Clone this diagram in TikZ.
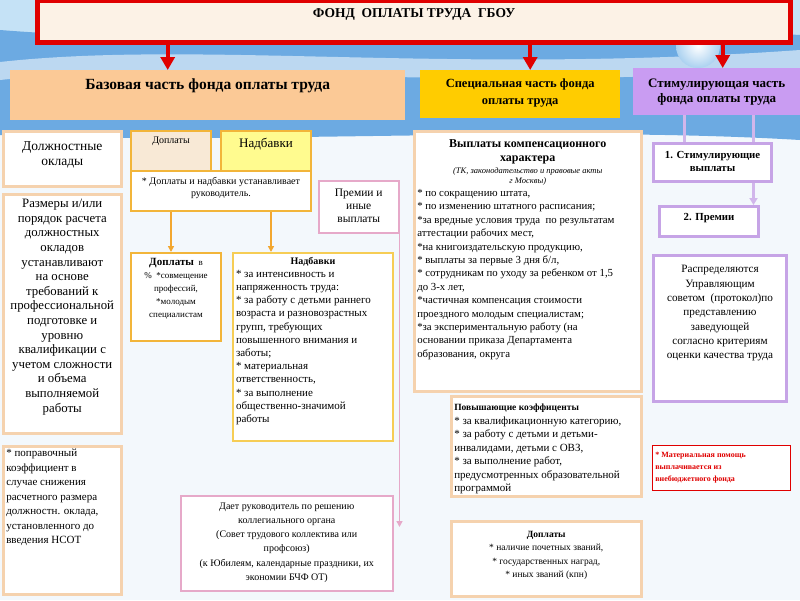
\documentclass[tikz,border=0pt]{standalone}
\usepackage{fontspec}
\setmainfont{Liberation Serif}
\usetikzlibrary{arrows.meta,calc}

\definecolor{redmain}{HTML}{E00000}
\definecolor{titlefill}{HTML}{FCF2E6}
\definecolor{peachfill}{HTML}{FBC996}
\definecolor{peachline}{HTML}{F5D2AE}
\definecolor{specfill}{HTML}{FFCC00}
\definecolor{stimfill}{HTML}{C99CF2}
\definecolor{lilacline}{HTML}{C6A4E6}
\definecolor{goldline}{HTML}{F2B53A}
\definecolor{goldlineB}{HTML}{F6CD55}
\definecolor{doplfill}{HTML}{F8E9D6}
\definecolor{nadbfill}{HTML}{FFFB8F}
\definecolor{pinkline}{HTML}{E6A9C9}
\definecolor{arrowgold}{HTML}{F2A730}
\definecolor{skylight}{HTML}{F3F8FC}
\definecolor{skytop}{HTML}{C5E2F6}
\definecolor{skyband}{HTML}{6CAAE2}

\newcommand{\cellbox}[4][t]{\parbox[c][\dimexpr#3pt-6pt\relax][#1]{\dimexpr#2pt-6pt\relax}{#4}}

\begin{document}
\begin{tikzpicture}[x=1pt, y=-1pt,
    cell/.style={anchor=north west, inner sep=3pt, fill=white},
    peachcell/.style={cell, draw=peachline, line width=2.5pt},
    goldcell/.style={cell, draw=goldline, line width=2pt},
    lilaccell/.style={cell, draw=lilacline, line width=3pt},
    pinkcell/.style={cell, draw=pinkline, line width=1.5pt},
    redarrow/.style={draw=redmain, line width=4pt, -{Triangle[width=14pt,length=13pt]}},
    goldarrow/.style={draw=arrowgold, line width=1.5pt, -{Triangle[width=6pt,length=6pt]}},
    lilaclink/.style={draw=lilacline!80, line width=2.5pt},
    pinklink/.style={draw=pinkline, line width=1.5pt, -{Triangle[width=6pt,length=6pt]}},
  ]
  \useasboundingbox (0,0) rectangle (800,600);
  \fill[skylight] (0,0) rectangle (800,600);
  \fill[skytop] (0,0) rectangle (800,40);
  \fill[skyband] (0,30) .. controls (250,50) and (550,20) .. (800,35)
    -- (800,140) .. controls (550,125) and (250,145) .. (0,135) -- cycle;
  \fill[white, opacity=0.55] (0,62) .. controls (200,40) and (450,75) .. (800,50)
    -- (800,68) .. controls (450,95) and (200,58) .. (0,80) -- cycle;
  \shade[inner color=white, outer color=skytop!70!skyband] (698,46) circle (22);

  % top level
  \node[cell, draw=redmain, line width=5pt, fill=titlefill,
        font=\bfseries\fontsize{13.5}{15}\selectfont] (title) at (35,-2)
    {\cellbox{753}{42}{\vspace*{5pt}\centering ФОНД\ \ ОПЛАТЫ ТРУДА\ \ ГБОУ}};

  \node[cell, fill=peachfill, font=\bfseries\fontsize{15.5}{17}\selectfont] (base) at (10,70)
    {\cellbox{395}{50}{\vspace*{6pt}\centering Базовая часть фонда оплаты труда}};
  \node[cell, fill=specfill, font=\bfseries\fontsize{12.5}{17}\selectfont] (spec) at (420,70)
    {\cellbox{200}{48}{\vspace*{6pt}\centering Специальная часть фонда\\ оплаты труда}};
  \node[cell, fill=stimfill, font=\bfseries\fontsize{13}{15}\selectfont] (stim) at (633,68)
    {\cellbox{167}{47}{\vspace*{8pt}\centering Стимулирующая часть\\ фонда оплаты труда}};

  % base part
  \node[peachcell, font=\fontsize{13.5}{15.5}\selectfont] (dolzh) at (2,130)
    {\cellbox{118}{55}{\vspace*{7pt}\centering Должностные\\ оклады}};
  \node[peachcell, font=\fontsize{12.8}{14.6}\selectfont] (razm) at (2,193)
    {\cellbox{118}{239}{\vspace*{2pt}\centering Размеры и/или\\ порядок расчета\\ должностных\\ окладов\\
      устанавливают\\ на основе\\ требований к\\ профессиональной\\ подготовке и\\ уровню\\
      квалификации с\\ учетом сложности\\ и объема\\ выполняемой\\ работы}};
  \node[peachcell, font=\fontsize{11}{14.5}\selectfont] (popr) at (2,445)
    {\cellbox{118}{148}{\raggedright * поправочный\\ коэффициент в\\ случае снижения\\ расчетного размера\\
      должностн. оклада,\\ установленного до\\ введения НСОТ}};

  \node[cell, draw=goldline, line width=2pt, fill=doplfill, font=\fontsize{10}{12}\selectfont] (doplA) at (130,130)
    {\cellbox{80}{40}{\vspace*{3pt}\centering Доплаты}};
  \node[cell, draw=goldline, line width=2pt, fill=nadbfill, font=\fontsize{13}{14}\selectfont] (nadbA) at (220,130)
    {\cellbox{90}{40}{\vspace*{4pt}\centering Надбавки}};
  \node[goldcell, font=\fontsize{10}{12}\selectfont] (ustan) at (130,170)
    {\cellbox{180}{40}{\vspace*{3pt}\centering * Доплаты и надбавки устанавливает\\ руководитель.}};

  \node[goldcell, font=\fontsize{9}{13}\selectfont] (doplB) at (130,252)
    {\cellbox{90}{88}{\vspace*{2pt}\centering{\bfseries\fontsize{11}{13}\selectfont Доплаты}\ \ в\\ \%\ \ *совмещение\\
      профессий,\\{}*молодым\\ специалистам}};
  \node[goldcell, draw=goldlineB, font=\fontsize{11}{13.2}\selectfont] (nadbB) at (232,252)
    {\cellbox{160}{188}{\vspace*{1pt}{\centering\bfseries\fontsize{10}{13.2}\selectfont Надбавки\par}\raggedright * за интенсивность и\\
      напряженность труда:\\{}* за работу с детьми раннего\\ возраста и разновозрастных\\
      групп, требующих\\ повышенного внимания и\\ заботы;\\{}* материальная\\ ответственность,\\{}%
      * за выполнение\\ общественно-значимой\\ работы}};

  \node[pinkcell, font=\fontsize{11.5}{13}\selectfont] (prem) at (318,180)
    {\cellbox{80}{52}{\vspace*{5pt}\centering Премии и\\ иные\\ выплаты}};
  \node[pinkcell, font=\fontsize{10}{14.2}\selectfont] (dast) at (180,495)
    {\cellbox{212}{95}{\vspace*{4pt}\centering Дает руководитель по решению\\ коллегиального органа\\
      (Совет трудового коллектива или\\ профсоюз)\\ (к Юбилеям, календарные праздники, их\\ экономии БЧФ ОТ)}};

  % special part
  \node[peachcell] (komp) at (413,130)
    {\cellbox{227}{260}{\vspace*{5pt}{\centering\bfseries\fontsize{12}{14}\selectfont Выплаты компенсационного\\ характера\par}
      \vspace{2pt}{\centering\itshape\fontsize{8.5}{10}\selectfont (ТК, законодательство и правовые акты\\ г Москвы)\par}
      \raggedright\fontsize{10.8}{13.4}\selectfont
      * по сокращению штата,\\{}* по изменению штатного расписания;\\{}%
      *за вредные условия труда\ \ по результатам\\ аттестации рабочих мест,\\{}%
      *на книгоиздательскую продукцию,\\{}* выплаты за первые 3 дня б/л,\\{}%
      * сотрудникам по уходу за ребенком от 1,5\\ до 3-х лет,\\{}%
      *частичная компенсация стоимости\\ проездного молодым специалистам;\\{}%
      *за экспериментальную работу (на\\ основании приказа Департамента\\ образования, округа}};
  \node[peachcell, font=\fontsize{11}{13.5}\selectfont] (pov) at (450,395)
    {\cellbox{190}{100}{\vspace*{5pt}\raggedright{\bfseries\fontsize{9.5}{13.5}\selectfont Повышающие коэффиценты}\\{}%
      * за квалификационную категорию,\\{}* за работу с детьми и детьми-\\ инвалидами, детьми с ОВЗ,\\{}%
      * за выполнение работ,\\ предусмотренных образовательной\\ программой}};
  \node[peachcell, font=\fontsize{9.5}{13.5}\selectfont] (doplC) at (450,520)
    {\cellbox{190}{75}{\vspace*{7pt}\centering{\bfseries Доплаты}\\{}* наличие почетных званий,\\{}%
      * государственных наград,\\{}* иных званий (кпн)}};

  % stimulating part
  \node[lilaccell, font=\bfseries\fontsize{10.8}{13}\selectfont] (sA) at (652,142)
    {\cellbox{118}{38}{\vspace*{5pt}\centering 1. Стимулирующие\\ выплаты}};
  \node[lilaccell, font=\bfseries\fontsize{10.8}{13}\selectfont] (sB) at (658,205)
    {\cellbox{99}{30}{\vspace*{4pt}\centering 2. Премии}};
  \node[lilaccell, font=\fontsize{11.2}{14.3}\selectfont] (raspr) at (652,254)
    {\cellbox{133}{146}{\vspace*{7pt}\centering Распределяются\\ Управляющим\\ советом\ \ (протокол)по\\
      представлению\\ заведующей\\ согласно критериям\\ оценки качества труда}};
  \node[cell, draw=redmain, line width=0.8pt, text=redmain, font=\bfseries\fontsize{8}{12}\selectfont] (redn) at (652,445)
    {\cellbox{138}{45}{\vspace*{4pt}\raggedright * Материальная помощь\\ выплачивается из\\ внебюджетного фонда}};

  % connectors
  \path ([xshift=-40pt]base.north) coordinate (baseIn)
        ([xshift=10pt]spec.north) coordinate (specIn)
        ([xshift=6pt]stim.north) coordinate (stimIn);
  \foreach \c in {baseIn,specIn,stimIn}
    \draw[redarrow] (title.south -| \c) -- (\c);

  \path ([xshift=-5pt]doplB.north) coordinate (doplIn)
        ([xshift=-42pt]nadbB.north) coordinate (nadbIn);
  \foreach \c in {doplIn,nadbIn}
    \draw[goldarrow] (ustan.south -| \c) -- (\c);

  \path ([xshift=-28pt]sA.north) coordinate (sAinL)
        ([xshift=41pt]sA.north) coordinate (sAinR)
        ([xshift=44.5pt]sB.north) coordinate (sBin);
  \foreach \c in {sAinL,sAinR}
    \draw[lilaclink] (stim.south -| \c) -- (\c);
  \draw[lilaclink, -{Triangle[width=8pt,length=7pt]}] (sA.south -| sBin) -- (sBin);

  \path ([yshift=-32pt]dast.north east) coordinate (dastIn);
  \draw[pinklink] (prem.south east) -- (prem.south east |- dastIn);
\end{tikzpicture}
\end{document}
